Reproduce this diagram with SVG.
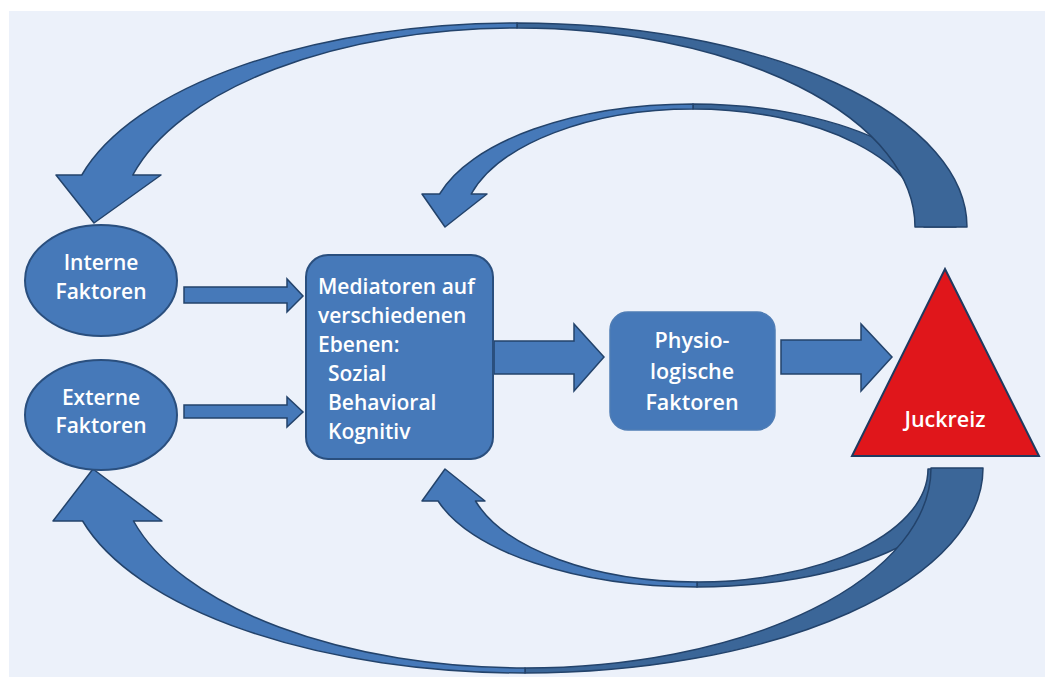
<svg xmlns="http://www.w3.org/2000/svg" width="1045" height="677" viewBox="0 0 1045 677">
  <style>
    .light { fill: #4679B9; stroke: #23436B; stroke-width: 1.5; stroke-linejoin: round; }
    .dark { fill: #3B6698; stroke: #23436B; stroke-width: 1.5; stroke-linejoin: round; }
    .node { fill: #4679B9; stroke: #2A4F7E; stroke-width: 2; }
    .block { fill: #4679B9; stroke: #23436B; stroke-width: 1.5; stroke-linejoin: miter; }
    .t { font-family: "Open Sans", "Liberation Sans", sans-serif; font-weight: 600; font-size: 21px; fill: #FFFFFF; }
    .s { font-size: 21.5px; }
    .c { text-anchor: middle; }
  </style>
  <rect x="9" y="11" width="1036" height="666" fill="#ECF1FA"/>

  <g id="connectors">
    <!-- small top feedback arrow -->
    <path class="dark" d="M 693,104 A 263 123 0 0 1 956,227 L 924,227 A 231 118 0 0 0 693,109 Z"/>
    <path class="light" d="M 422,194 L 439.6,194 A 263 123 0 0 1 693,104 L 693,109 A 231 118 0 0 0 471.2,194 L 487,194 L 445,227 Z"/>
    <!-- small bottom feedback arrow -->
    <path class="dark" d="M 697,587 A 269 118 0 0 0 966,469 L 928,469 A 231 113 0 0 1 697,582 Z"/>
    <path class="light" d="M 422,501 L 438.1,501 A 269 118 0 0 0 697,587 L 697,582 A 231 113 0 0 1 475.5,501 L 485,501 L 445,469 Z"/>
    <!-- big top feedback arrow -->
    <path class="dark" d="M 517,23 A 450 204 0 0 1 967,227 L 915,227 A 398 199 0 0 0 517,28 Z"/>
    <path class="light" d="M 56,175 L 81.8,175 A 450 204 0 0 1 517,23 L 517,28 A 398 199 0 0 0 132.8,175 L 161,175 L 94,223 Z"/>
    <!-- big bottom feedback arrow -->
    <path class="dark" d="M 525,673 A 458 205 0 0 0 983,468 L 931,468 A 406 200 0 0 1 525,668 Z"/>
    <path class="light" d="M 53,521 L 82.6,521 A 458 205 0 0 0 525,673 L 525,668 A 406 200 0 0 1 133.5,521 L 162,521 L 93,469 Z"/>
    <!-- block arrows -->
    <path class="block" d="M184,287 L287,287 L287,279 L303,296 L287,312 L287,303 L184,303 Z"/>
    <path class="block" d="M184,405 L287,405 L287,397 L303,412 L287,427 L287,418 L184,418 Z"/>
    <path class="block" d="M494,341 L574,341 L574,324 L604,357 L574,391 L574,374 L494,374 Z"/>
    <path class="block" d="M781,340 L861,340 L861,324 L892,357 L861,391 L861,374 L781,374 Z"/>
  </g>

  <g id="interne">
    <ellipse class="node" cx="101" cy="280.5" rx="76" ry="55.5"/>
    <text class="t c" x="101" y="270">Interne</text>
    <text class="t c" x="101" y="299">Faktoren</text>
  </g>

  <g id="externe">
    <ellipse class="node" cx="101" cy="415" rx="76" ry="55"/>
    <text class="t c" x="101" y="405">Externe</text>
    <text class="t c" x="101" y="433">Faktoren</text>
  </g>

  <g id="mediatoren">
    <rect class="node" x="306" y="255" width="187" height="204" rx="22" ry="22"/>
    <text class="t" x="318" y="294">Mediatoren auf</text>
    <text class="t" x="318" y="323">verschiedenen</text>
    <text class="t" x="318" y="352">Ebenen:</text>
    <text class="t" x="328" y="381">Sozial</text>
    <text class="t" x="328" y="410">Behavioral</text>
    <text class="t" x="328" y="439">Kognitiv</text>
  </g>

  <g id="physio">
    <rect x="610" y="312" width="165" height="118" rx="18" ry="18" fill="#4679B9" stroke="#4F7DB5" stroke-width="1.5"/>
    <text class="t s c" x="692" y="348">Physio-</text>
    <text class="t s c" x="692" y="379">logische</text>
    <text class="t s c" x="692" y="410">Faktoren</text>
  </g>

  <g id="juckreiz">
    <polygon points="945,269 1039,456 852,456" fill="#E0161B" stroke="#1F3A5F" stroke-width="2" stroke-linejoin="miter"/>
    <text class="t s c" x="945" y="427">Juckreiz</text>
  </g>
</svg>
